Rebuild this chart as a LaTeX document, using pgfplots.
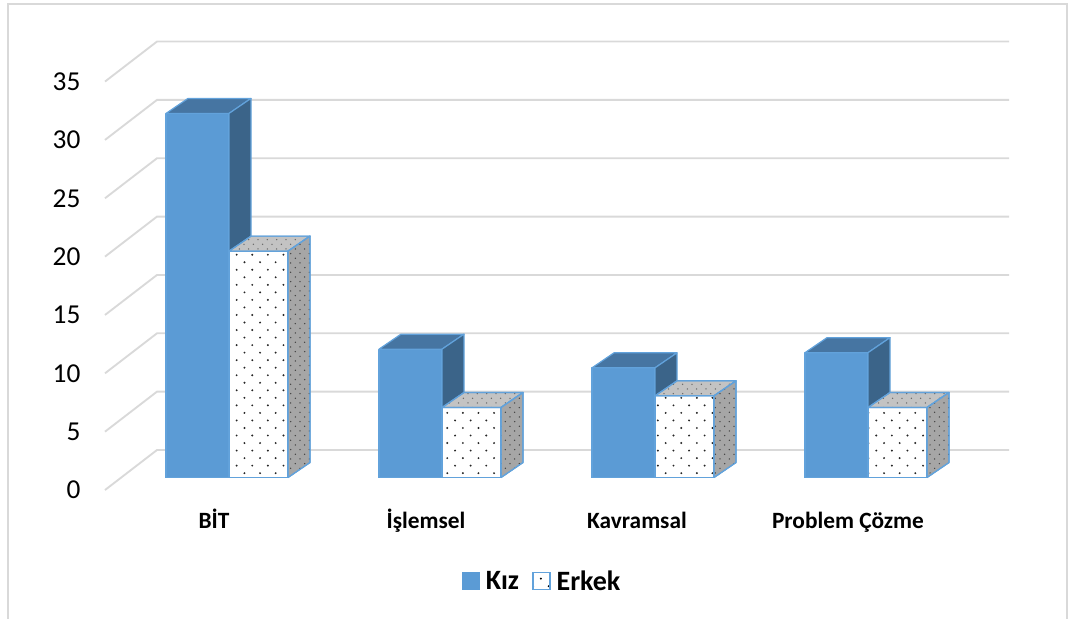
\documentclass[border=0pt]{standalone}
\usepackage{pgfplots}
\pgfplotsset{compat=1.18}
\usepackage{pgfplotstable}
\usepackage{fontspec}
\setmainfont{Carlito}
\usetikzlibrary{patterns}

\definecolor{kizfront}{HTML}{5B9BD5}
\definecolor{kiztop}{HTML}{4675A2}
\definecolor{kizside}{HTML}{3B6489}
\definecolor{barline}{HTML}{62A2DB}
\definecolor{etop}{HTML}{C3C3C3}
\definecolor{eside}{HTML}{A6A6A6}
\definecolor{gridc}{HTML}{D9D9D9}

\pgfdeclarepatternformonly{sdots}{\pgfqpoint{-1pt}{-1pt}}{\pgfqpoint{12.7pt}{12.3pt}}{\pgfqpoint{11.7pt}{11.3pt}}{%
  \pgfpathcircle{\pgfqpoint{2pt}{2pt}}{0.8pt}%
  \pgfpathcircle{\pgfqpoint{7.85pt}{7.65pt}}{0.8pt}%
  \pgfusepath{fill}}
\pgfdeclarepatternformonly{smalldots}{\pgfqpoint{-1pt}{-1pt}}{\pgfqpoint{8pt}{8pt}}{\pgfqpoint{7pt}{7pt}}{%
  \pgfpathcircle{\pgfqpoint{1pt}{1pt}}{0.55pt}%
  \pgfpathcircle{\pgfqpoint{4.5pt}{4.5pt}}{0.55pt}%
  \pgfusepath{fill}}

% values (Kız / Erkek), x = left edge of front face in px
\pgfplotstableread{
x v
166 31.2
379 11
592 9.4
805 10.7
}\kiz
\pgfplotstableread{
x v
229 19.4
442 6
655 7
868 6
}\erkek

% face templates: a = width fraction, h = height fraction, d = depth fraction
\pgfplotstableread{
a h d
0 0 0
1 0 0
1 1 0
0 1 0
0 0 0
}\frontface
\pgfplotstableread{
a h d
0 1 0
1 1 0
1 1 1
0 1 1
0 1 0
}\topface
\pgfplotstableread{
a h d
1 0 0
1 0 1
1 1 1
1 1 0
1 0 0
}\sideface

\newcommand\drawbox[6]{%
  \pgfplotstablegetelem{#2}{x}\of#1\let\bx\pgfplotsretval
  \pgfplotstablegetelem{#2}{v}\of#1\let\bv\pgfplotsretval
  \addplot[forget plot,#4] table[x expr=\bx+#3*\thisrow{a}+22*\thisrow{d}, y expr=1.07+\bv*\thisrow{h}+1.286*\thisrow{d}]{\frontface};
  \addplot[forget plot,#5] table[x expr=\bx+#3*\thisrow{a}+22*\thisrow{d}, y expr=1.07+\bv*\thisrow{h}+1.286*\thisrow{d}]{\topface};
  \addplot[forget plot,#6] table[x expr=\bx+#3*\thisrow{a}+22*\thisrow{d}, y expr=1.07+\bv*\thisrow{h}+1.286*\thisrow{d}]{\sideface};
}

\begin{document}
\begin{tikzpicture}
\begin{axis}[
  name=ax,
  x=0.75pt, y=8.7525pt,
  xmin=0, xmax=1079, ymin=-11.05, ymax=41.99,
  clip=false,
  axis line style={draw=none},
  tick style={draw=none},
  ytick={0,5,...,35},
  yticklabel style={anchor=east, inner sep=0pt, xshift=60.5pt, font=\fontsize{20.5}{20.5}\selectfont},
  xtick={214,426,637,848},
  xticklabels={BİT,İşlemsel,Kavramsal,Problem Çözme},
  xticklabel style={anchor=base, inner sep=0pt, yshift=67.5pt, font=\bfseries\fontsize{17.5}{17.5}\selectfont},
  /pgf/number format/assume math mode=true,
  bx/.style={draw=barline, line width=0.9pt, line join=round},
  legend style={at={(0.503,0.061)}, anchor=center, draw=none, fill=none,
    legend columns=2, font=\bfseries\fontsize{21}{21}\selectfont,
    /tikz/every odd column/.append style={column sep=2.5pt},
    /tikz/every even column/.append style={column sep=8pt}},
  legend image code/.code={\draw[#1] (0pt,-6.2pt) rectangle (12.8pt,6.6pt);},
]
% chart border
\draw[gridc, line width=1.3pt] (axis cs:8,-11.05) -- (axis cs:8,41.65) -- (axis cs:1067,41.65) -- (axis cs:1067,-11.05);
% gridlines (side wall and back wall)
\pgfplotsinvokeforeach{0,5,...,35}{
  \draw[gridc, line width=1.4pt] (axis cs:105,#1) -- (axis cs:157,{#1+3.43}) -- (axis cs:1009,{#1+3.43});
}
% bars
\pgfplotsinvokeforeach{0,1,2,3}{
  \drawbox{\kiz}{#1}{63}{bx,fill=kizfront}{bx,fill=kiztop}{bx,fill=kizside}
  \drawbox{\erkek}{#1}{59}{bx,fill=white,postaction={pattern=sdots,pattern color=black!85}}{bx,fill=etop,postaction={pattern=smalldots,pattern color=black!60}}{bx,fill=eside,postaction={pattern=smalldots,pattern color=black!75}}
}
\addlegendimage{fill=kizfront, draw=kizfront}
\addlegendentry{Kız}
\addlegendimage{fill=white, draw=barline, line width=0.9pt, postaction={pattern=sdots,pattern color=black}}
\addlegendentry{Erkek}
\end{axis}
\pgfresetboundingbox
\path (ax.south west) rectangle (ax.north east);
\end{tikzpicture}
\end{document}
